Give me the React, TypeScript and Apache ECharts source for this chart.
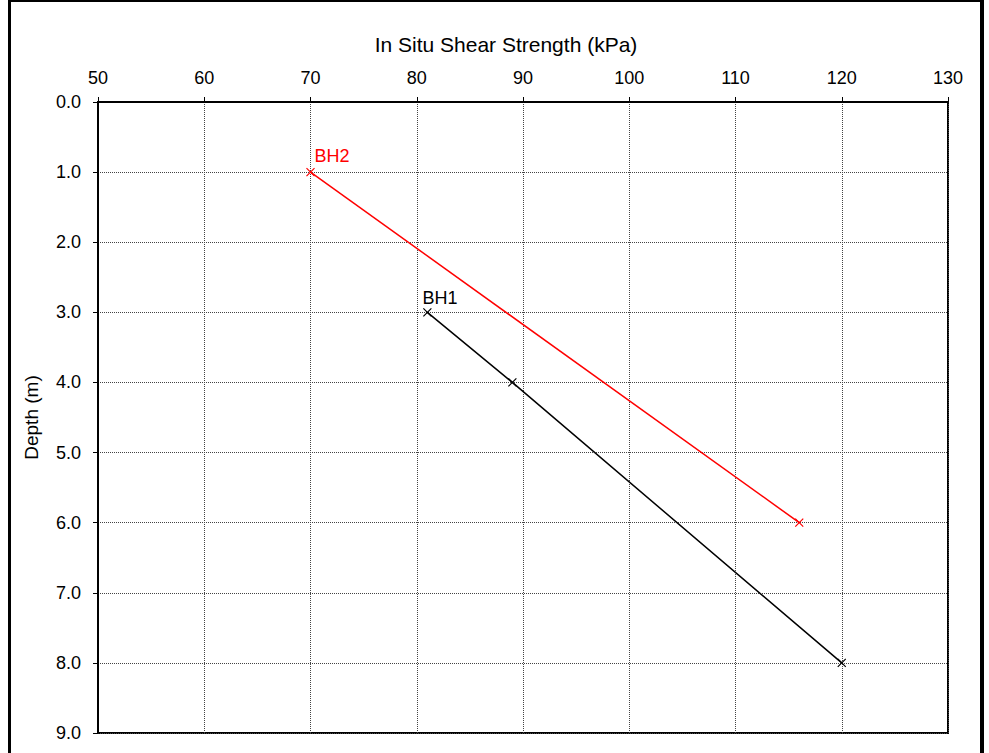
import React, { useEffect, useRef } from "react";
import * as echarts from "echarts";

const xTicks = [50, 60, 70, 80, 90, 100, 110, 120, 130];
const yTicks = [0, 1, 2, 3, 4, 5, 6, 7, 8, 9];
const bh1Strength = [81, 89, 120];
const bh1Depth = [3, 4, 8];
const bh2Strength = [70, 116];
const bh2Depth = [1, 6];
const xTitle = "In Situ Shear Strength (kPa)";
const yTitle = "Depth (m)";

const FONT = "Liberation Sans, Arial, sans-serif";
const CROSS = "path://M0,0L10,10M10,0L0,10";

export default function App() {
  const ref = useRef<HTMLDivElement>(null);
  useEffect(() => {
    if (!ref.current) return;
    const chart = echarts.init(ref.current, null, { renderer: "svg" });
    const mk = (xs: number[], ys: number[], name: string, color: string, offset: number[]) => ({
      type: "line",
      name,
      data: xs.map((x, i) => [x, ys[i]]),
      symbol: CROSS,
      symbolSize: 8,
      lineStyle: { color, width: 1.5 },
      itemStyle: { color: "none", borderColor: color, borderWidth: 1.2 },
      label: {
        show: true,
        formatter: (p: any) => (p.dataIndex === 0 ? name : ""),
        position: "top",
        align: "left",
        verticalAlign: "bottom",
        offset,
        color,
        fontSize: 18,
        fontFamily: FONT,
      },
      emphasis: { disabled: true },
    });
    chart.setOption({
      animation: false,
      grid: {
        left: 98,
        right: 41,
        top: 102,
        bottom: 20,
        show: true,
        borderColor: "#000",
        borderWidth: 2,
        backgroundColor: "#fff",
      },
      xAxis: {
        type: "value",
        position: "top",
        min: xTicks[0],
        max: xTicks[xTicks.length - 1],
        interval: 10,
        name: xTitle,
        nameLocation: "middle",
        nameGap: 47,
        nameTextStyle: { color: "#000", fontSize: 21, fontFamily: FONT, padding: [0, 34, 0, 0] },
        axisLine: { show: true, lineStyle: { color: "#000", width: 2 } },
        axisTick: { show: true, inside: false, length: 5, lineStyle: { color: "#000" } },
        axisLabel: { color: "#000", fontSize: 18, fontFamily: FONT, margin: 15 },
        splitLine: { show: true, lineStyle: { color: "#444", type: "dotted", width: 1 } },
      },
      yAxis: {
        type: "value",
        inverse: true,
        min: yTicks[0],
        max: yTicks[yTicks.length - 1],
        interval: 1,
        name: yTitle,
        nameLocation: "middle",
        nameGap: 57,
        nameRotate: 90,
        nameTextStyle: { color: "#000", fontSize: 19, fontFamily: FONT },
        axisLine: { show: true, lineStyle: { color: "#000", width: 2 } },
        axisTick: { show: true, inside: false, length: 5, lineStyle: { color: "#000" } },
        axisLabel: {
          color: "#000",
          fontSize: 18,
          fontFamily: FONT,
          margin: 17,
          formatter: (v: number) => v.toFixed(1),
        },
        splitLine: { show: true, lineStyle: { color: "#444", type: "dotted", width: 1 } },
      },
      graphic: [
        { type: "rect", shape: { x: 8, y: 0, width: 3, height: 753 }, style: { fill: "#000" } },
        { type: "rect", shape: { x: 8, y: 0, width: 976, height: 2 }, style: { fill: "#000" } },
        { type: "rect", shape: { x: 980, y: 0, width: 4, height: 753 }, style: { fill: "#000" } },
      ],
      series: [
        mk(bh2Strength, bh2Depth, "BH2", "#ff0000", [4, 4]),
        mk(bh1Strength, bh1Depth, "BH1", "#000000", [-5, 6]),
      ],
    });
    return () => chart.dispose();
  }, []);
  return (
    <div
      ref={ref}
      style={{ position: "fixed", left: 0, top: 0, width: 989, height: 753, background: "#fff" }}
    />
  );
}
